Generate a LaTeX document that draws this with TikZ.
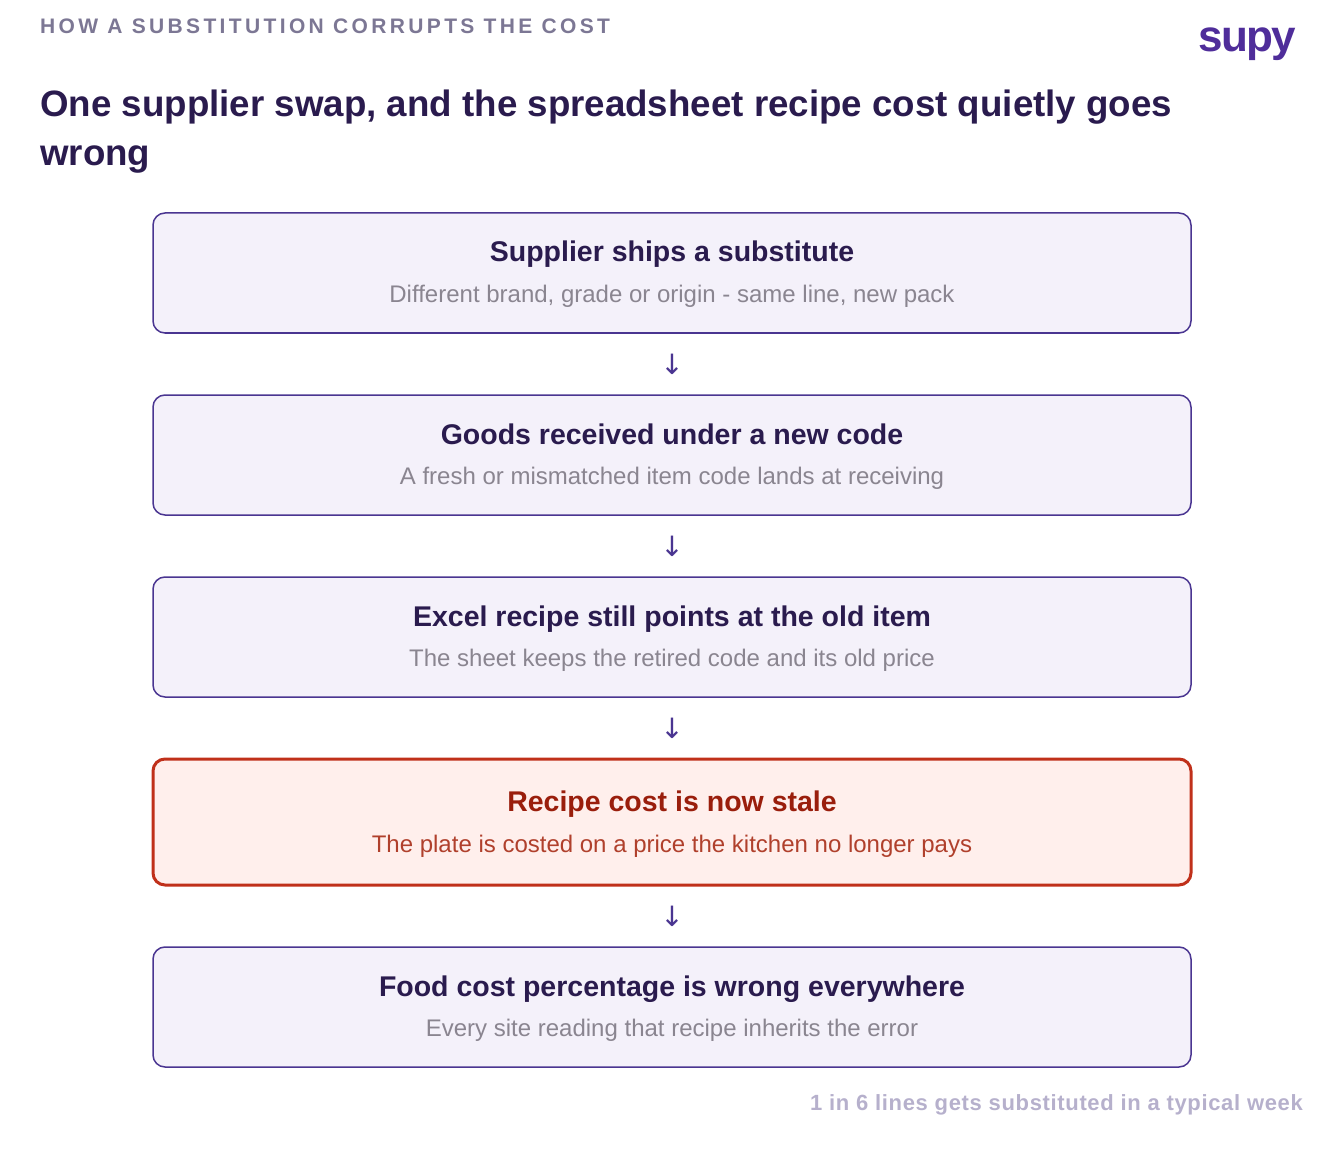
\documentclass[tikz,border=0pt]{standalone}
\usepackage{fontspec}
\setmainfont{Liberation Sans}
\newfontfamily\arrowfont{DejaVu Sans}
\definecolor{ink}{HTML}{2A1B4E}
\definecolor{boxline}{HTML}{4A3591}
\definecolor{boxfill}{HTML}{F4F1FA}
\definecolor{sub}{HTML}{8A8590}
\definecolor{redline}{HTML}{C0301A}
\definecolor{redfill}{HTML}{FFEFEC}
\definecolor{redink}{HTML}{9A1E0C}
\definecolor{redsub}{HTML}{B0402C}
\definecolor{kicker}{HTML}{7C7794}
\definecolor{foot}{HTML}{B6B0CC}
\definecolor{logo}{HTML}{4F2D9A}
\begin{document}
\begin{tikzpicture}[x=1pt,y=-1pt,
  box/.style={draw=boxline,fill=boxfill,line width=1.5pt,rounded corners=12pt},
  rbox/.style={draw=redline,fill=redfill,line width=3pt,rounded corners=12pt},
  ttl/.style={font=\fontsize{28.5}{32}\selectfont\bfseries,text=ink},
  st/.style={font=\fontsize{24}{28}\selectfont,text=sub},
  arr/.style={font=\arrowfont\fontsize{28}{32}\selectfont,text=boxline}]
\useasboundingbox (0,0) rectangle (1344,1150);
\node[anchor=base west,font=\fontsize{21}{24}\selectfont\bfseries,text=kicker,inner sep=0] (kick) at (40,34) {\addfontfeatures{LetterSpace=16}HOW A SUBSTITUTION CORRUPTS THE COST};
\node[anchor=base east,font=\fontsize{44}{48}\selectfont\bfseries,text=logo,inner sep=0] (logo) at (1296,52) {\addfontfeatures{LetterSpace=-4}supy};
\node[anchor=base west,font=\fontsize{36.7}{40}\selectfont\bfseries,text=ink,inner sep=0] (t1) at (40,117) {One supplier swap, and the spreadsheet recipe cost quietly goes};
\node[anchor=base west,font=\fontsize{36.7}{40}\selectfont\bfseries,text=ink,inner sep=0] (t2) at (40,166) {wrong};
\foreach \n/\y/\a/\b in {b1/213/Supplier ships a substitute/{Different brand, grade or origin - same line, new pack},
  b2/395/Goods received under a new code/A fresh or mismatched item code lands at receiving,
  b3/577/Excel recipe still points at the old item/The sheet keeps the retired code and its old price,
  b5/947/Food cost percentage is wrong everywhere/Every site reading that recipe inherits the error}{
  \draw[box] (153,\y) rectangle (1191,\y+120);
  \coordinate (\n) at (672,\y+60);
  \node[ttl,anchor=base] (\n t) at (672,\y+49) {\a};
  \node[st,anchor=base] (\n s) at (672,\y+89) {\b};
}
\draw[rbox] (153,759) rectangle (1191,885);
\coordinate (b4) at (672,822);
\node[ttl,anchor=base,text=redink] (b4t) at (672,811) {Recipe cost is now stale};
\node[st,anchor=base,text=redsub] (b4s) at (672,852) {The plate is costed on a price the kitchen no longer pays};
\foreach \i/\y in {1/374,2/556,3/738,4/926}{
  \node[arr] (a\i) at (672,\y-10) {↓};
}
\node[anchor=base east,font=\fontsize{22}{24}\selectfont\bfseries,text=foot,inner sep=0] (ft) at (1303,1110) {\addfontfeatures{LetterSpace=3}1 in 6 lines gets substituted in a typical week};
\end{tikzpicture}
\end{document}
